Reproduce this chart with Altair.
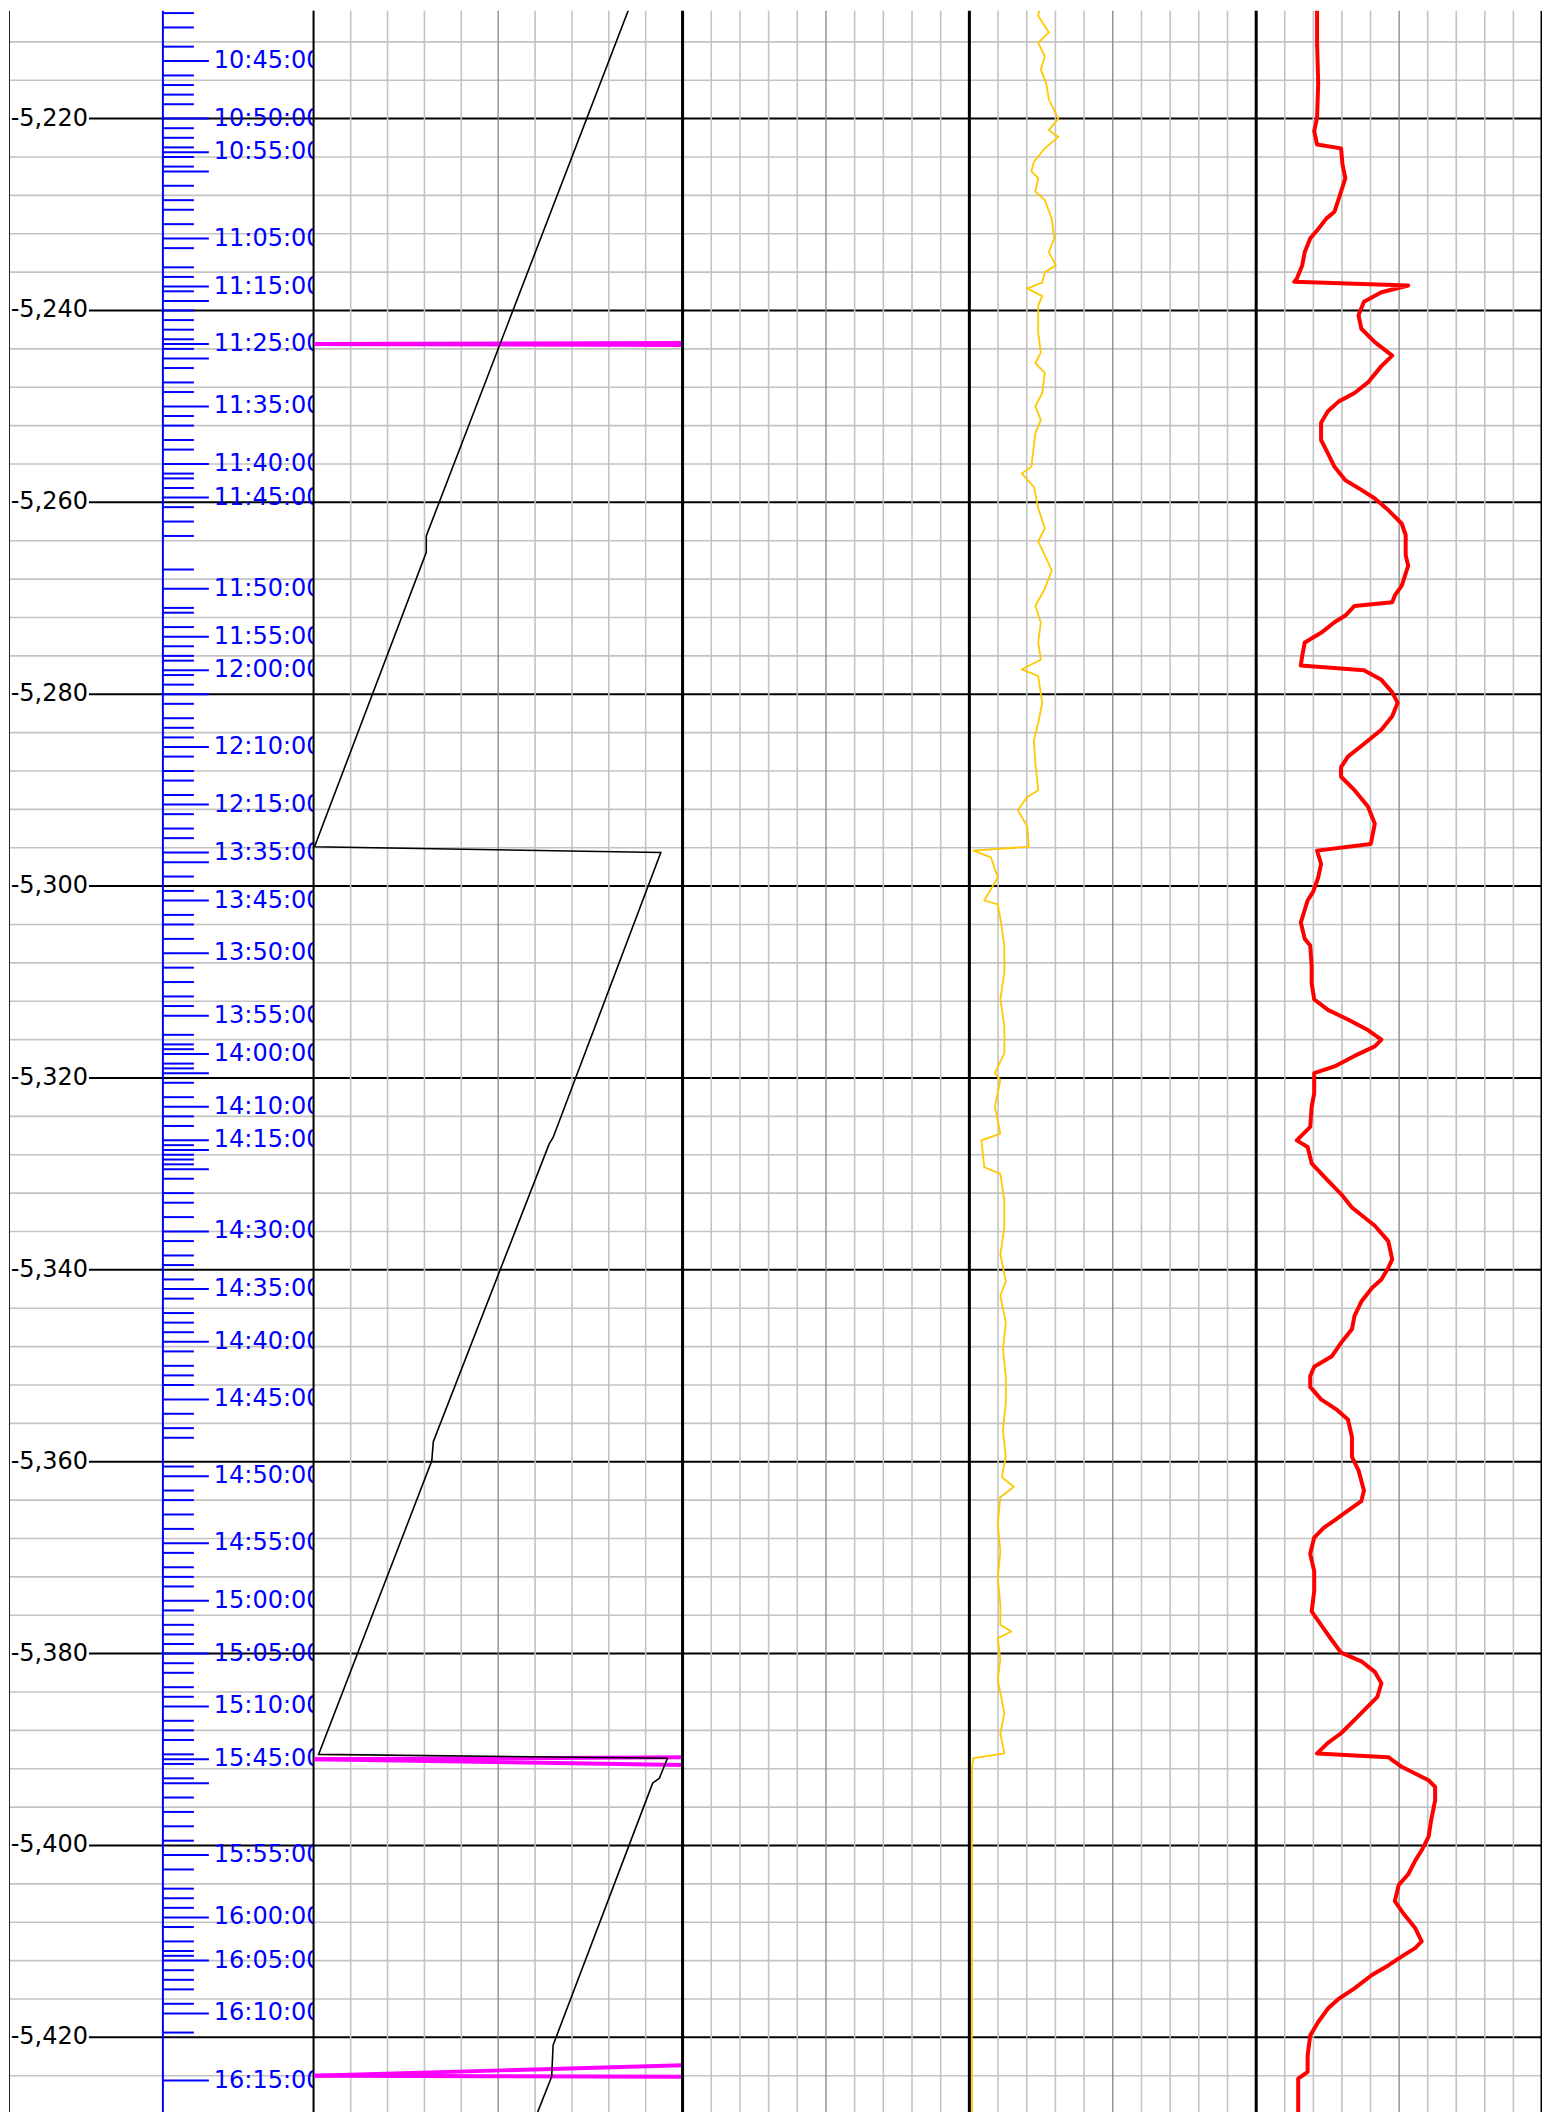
import altair as alt
import pandas as pd

# ---------------- layout constants ----------------
H = 2104
TOP_DEPTH = -5208.75
PX_PER_UNIT = 9.6
Y_DOMAIN = [TOP_DEPTH - H / PX_PER_UNIT, TOP_DEPTH]
W1, W2, W3, W4, W5 = 305, 369, 287, 287, 286

FONT = "DejaVu Sans"
BLUE = "#0000FF"
GRID = "#C3C3C3"
MID = "#858585"

# ---------------- data ----------------
major_depths = list(range(-5220, -5421, -20))
minor_depths = [d for d in range(-5212, -5428, -4) if d % 20 != 0]
major_labels = [f"{d:,}" for d in major_depths]
track_divisions = [10, 20, 30, 40, 60, 70, 80, 90]
track_center = [50]

time_labels = ["10:45:00", "10:50:00", "10:55:00", "11:05:00", "11:15:00", "11:25:00",
               "11:35:00", "11:40:00", "11:45:00", "11:50:00", "11:55:00", "12:00:00",
               "12:10:00", "12:15:00", "13:35:00", "13:45:00", "13:50:00", "13:55:00",
               "14:00:00", "14:10:00", "14:15:00", "14:30:00", "14:35:00", "14:40:00",
               "14:45:00", "14:50:00", "14:55:00", "15:00:00", "15:05:00", "15:10:00",
               "15:45:00", "15:55:00", "16:00:00", "16:05:00", "16:10:00", "16:15:00"]
time_label_depths = [-5214.0, -5220.0, -5223.5, -5232.5, -5237.5, -5243.5,
                     -5250.0, -5256.0, -5259.5, -5269.0, -5274.0, -5277.5,
                     -5285.5, -5291.5, -5296.5, -5301.5, -5307.0, -5313.5,
                     -5317.5, -5323.0, -5326.5, -5336.0, -5342.0, -5347.5,
                     -5353.5, -5361.5, -5368.5, -5374.5, -5380.0, -5385.5,
                     -5391.0, -5401.0, -5407.5, -5412.0, -5417.5, -5424.5]
long_tick_depths = [-5225.5, -5239.0, -5245.0, -5280.0, -5297.5, -5319.5,
                    -5327.5, -5329.5, -5393.5]
short_tick_depths = [
    -5209.0, -5210.5, -5212.5, -5215.5, -5216.5, -5217.5, -5218.5, -5221.0, -5222.0,
    -5223.0, -5224.0, -5225.0, -5227.0, -5228.5, -5229.5, -5231.0, -5233.5, -5235.5,
    -5236.5, -5238.0, -5240.0, -5241.0, -5242.0, -5243.0, -5244.0, -5246.0, -5247.5,
    -5248.5, -5251.0, -5252.0, -5253.5, -5254.5, -5257.0, -5257.5, -5258.5, -5260.5,
    -5262.0, -5263.5, -5267.0, -5271.0, -5271.5, -5273.0, -5275.0, -5276.0, -5276.5,
    -5278.0, -5279.0, -5281.0, -5282.5, -5283.5, -5284.5, -5286.5, -5288.0, -5289.0,
    -5290.5, -5292.5, -5294.0, -5295.0, -5299.0, -5300.5, -5303.0, -5304.0, -5305.5,
    -5308.5, -5310.0, -5311.5, -5312.5, -5315.5, -5316.5, -5317.0, -5318.5, -5319.0,
    -5320.5, -5322.0, -5324.0, -5325.0, -5327.0, -5328.0, -5328.5, -5329.0, -5330.5,
    -5332.0, -5333.0, -5334.5, -5337.0, -5338.5, -5339.5, -5341.0, -5343.0, -5344.5,
    -5345.5, -5346.5, -5348.5, -5350.0, -5351.0, -5352.0, -5355.0, -5356.5, -5357.5,
    -5360.5, -5363.0, -5364.0, -5365.5, -5367.0, -5369.5, -5371.0, -5372.0, -5373.0,
    -5375.5, -5377.0, -5378.0, -5379.0, -5381.0, -5382.0, -5383.5, -5384.5, -5387.0,
    -5388.0, -5389.0, -5390.5, -5391.5, -5393.0, -5395.0, -5396.5, -5398.0, -5399.5,
    -5402.5, -5404.5, -5405.5, -5406.5, -5408.5, -5410.0, -5411.0, -5411.5, -5413.0,
    -5414.0, -5415.0, -5416.5, -5419.5]

# track 2: black wrapped curve
bit_val = [85.3, 30.5, 30.5, 0.2, 94.1, 64.9, 63.8, 32.4, 32.0, 1.3, 95.9, 93.7,
           91.9, 64.9, 64.5, 60.6]
bit_depth = [-5208.7, -5263.5, -5265.2, -5295.9, -5296.5, -5326.2, -5326.9, -5357.9,
             -5359.9, -5390.5, -5390.9, -5393.0, -5393.5, -5420.8, -5424.1, -5427.9]

# track 2: magenta marker segments
magenta_seg = ["a", "a", "b", "b", "c", "c", "d", "d", "e", "e", "f", "f"]
magenta_val = [0, 100, 0, 100, 0, 100, 0, 100, 0, 100, 0, 100]
magenta_depth = [-5243.5, -5243.4, -5243.5, -5243.6, -5391.0, -5390.8, -5391.0, -5391.6,
                 -5424.0, -5422.9, -5424.0, -5424.1]

# track 4: yellow curve
yellow_val = [24.4, 24.0, 27.7, 24.0, 26.3, 24.9, 26.8, 27.7, 31.0, 27.7, 31.0, 26.3,
              22.5, 21.6, 24.0, 23.0, 26.3, 28.7, 29.6, 27.7, 30.1, 26.3, 25.4, 20.2,
              25.4, 24.0, 24.0, 24.9, 23.0, 26.3, 25.4, 23.0, 24.9, 23.0, 21.6, 18.3,
              22.5, 24.0, 26.3, 24.0, 26.3, 28.7, 26.3, 23.0, 24.9, 24.0, 24.9, 18.3,
              24.0, 25.4, 24.0, 22.5, 23.0, 24.0, 20.2, 16.9, 20.2, 20.7, 1.4, 7.5,
              9.9, 5.2, 9.9, 10.8, 12.2, 12.2, 10.8, 12.2, 12.2, 8.9, 10.8, 8.9,
              10.8, 4.2, 5.2, 10.8, 12.2, 12.2, 10.8, 12.7, 10.8, 12.7, 11.7, 12.7,
              12.7, 11.7, 12.7, 11.3, 15.5, 10.8, 9.9, 10.8, 9.9, 10.8, 10.8, 14.6,
              9.9, 10.8, 9.9, 12.2, 10.8, 12.2, 1.4, 0.9, 0.9]
yellow_depth = [-5208.7, -5209.3, -5211.0, -5212.1, -5213.5, -5214.9, -5216.3, -5218.0,
                -5220.0, -5221.2, -5221.9, -5223.1, -5224.5, -5225.5, -5226.2, -5227.6,
                -5228.5, -5230.4, -5232.5, -5233.9, -5235.3, -5236.0, -5237.1, -5237.7,
                -5238.5, -5239.5, -5242.3, -5244.4, -5245.5, -5246.5, -5248.6, -5250.0,
                -5251.4, -5252.8, -5256.3, -5257.0, -5258.4, -5260.6, -5262.7, -5264.1,
                -5265.5, -5267.1, -5269.0, -5270.8, -5272.5, -5274.6, -5276.4, -5277.4,
                -5278.1, -5280.9, -5283.0, -5284.8, -5287.2, -5290.0, -5290.7, -5292.1,
                -5293.8, -5295.9, -5296.3, -5297.0, -5299.1, -5301.5, -5301.9, -5303.4,
                -5306.2, -5309.0, -5311.8, -5314.6, -5317.4, -5319.5, -5320.2, -5323.0,
                -5325.8, -5326.5, -5329.3, -5330.0, -5332.8, -5335.6, -5338.4, -5341.2,
                -5342.7, -5345.5, -5348.3, -5351.1, -5353.9, -5356.7, -5359.5, -5361.6,
                -5362.6, -5363.7, -5366.5, -5369.3, -5372.1, -5374.9, -5377.0, -5377.7,
                -5378.4, -5380.6, -5382.7, -5386.2, -5388.3, -5390.4, -5390.9, -5391.8,
                -5427.9]

# track 5: red curve
red_val = [21.3, 21.3, 21.7, 21.3, 20.3, 21.3, 29.7, 30.2, 31.2, 29.7, 27.4, 24.6,
           21.7, 18.9, 17.0, 16.1, 14.2, 13.3, 53.2, 43.8, 37.7, 35.8, 36.8, 41.5,
           47.6, 43.8, 39.1, 34.4, 28.8, 25.1, 22.7, 22.7, 25.1, 27.4, 31.2, 36.8,
           41.5, 46.2, 50.9, 52.3, 52.3, 53.2, 50.9, 48.5, 47.6, 34.4, 31.2, 27.4,
           22.7, 17.0, 16.1, 15.6, 37.7, 43.8, 47.6, 49.5, 47.6, 43.8, 36.8, 32.1,
           29.7, 29.7, 34.4, 39.1, 41.5, 40.1, 21.3, 22.7, 21.7, 19.9, 18.0, 15.6,
           17.0, 18.9, 19.4, 19.4, 20.3, 25.1, 32.1, 39.1, 43.8, 41.5, 34.4, 27.4,
           20.3, 20.3, 19.4, 18.9, 14.2, 18.0, 19.4, 25.1, 29.7, 33.5, 41.5, 46.2,
           47.6, 46.2, 43.8, 40.5, 36.8, 34.4, 33.5, 29.7, 26.5, 20.3, 18.9, 18.9,
           22.7, 28.3, 32.1, 33.5, 33.5, 35.8, 37.7, 36.8, 32.1, 27.4, 23.6, 20.3,
           18.9, 20.3, 20.3, 19.4, 22.7, 26.0, 29.7, 36.8, 41.5, 43.8, 42.4, 39.1,
           34.4, 29.7, 25.1, 21.3, 46.2, 50.9, 55.6, 60.3, 62.6, 62.6, 61.2, 60.3,
           57.9, 55.6, 53.2, 49.9, 48.5, 51.8, 55.6, 57.9, 55.6, 51.8, 46.2, 40.5,
           34.4, 28.8, 25.1, 21.7, 18.9, 18.0, 18.0, 14.7, 14.7]
red_depth = [-5208.7, -5212.1, -5216.3, -5219.9, -5221.3, -5222.7, -5223.1, -5224.8,
             -5226.2, -5227.6, -5229.7, -5230.4, -5231.5, -5232.5, -5233.9, -5235.3,
             -5236.7, -5237.0, -5237.4, -5238.1, -5239.1, -5240.5, -5241.9, -5243.3,
             -5244.7, -5245.8, -5247.5, -5248.6, -5249.5, -5250.5, -5251.7, -5253.5,
             -5254.9, -5256.3, -5257.7, -5258.7, -5259.6, -5260.8, -5262.2, -5263.4,
             -5265.5, -5266.6, -5268.7, -5269.7, -5270.4, -5270.8, -5271.8, -5272.5,
             -5273.6, -5274.6, -5276.0, -5277.0, -5277.5, -5278.5, -5279.8, -5280.9,
             -5282.3, -5283.7, -5285.4, -5286.5, -5287.6, -5288.6, -5290.0, -5291.7,
             -5293.5, -5295.6, -5296.3, -5297.7, -5299.1, -5300.6, -5301.5, -5303.8,
             -5305.5, -5306.2, -5308.3, -5310.1, -5311.8, -5312.9, -5313.9, -5315.0,
             -5316.0, -5316.7, -5317.7, -5318.8, -5319.5, -5321.6, -5323.0, -5325.1,
             -5326.5, -5327.2, -5328.9, -5330.7, -5332.1, -5333.5, -5335.4, -5337.0,
             -5338.9, -5339.8, -5341.0, -5341.9, -5343.3, -5344.8, -5346.2, -5347.6,
             -5349.0, -5350.1, -5351.1, -5352.2, -5353.5, -5354.6, -5355.6, -5357.4,
             -5359.5, -5360.9, -5363.0, -5364.1, -5365.1, -5366.1, -5366.9, -5367.9,
             -5369.6, -5371.4, -5373.5, -5375.6, -5377.0, -5378.4, -5379.9, -5380.8,
             -5381.9, -5383.1, -5384.5, -5385.5, -5386.9, -5388.3, -5389.3, -5390.4,
             -5390.8, -5391.8, -5392.5, -5393.2, -5393.9, -5395.3, -5397.4, -5399.1,
             -5400.5, -5401.6, -5403.0, -5404.1, -5405.8, -5407.2, -5408.6, -5410.0,
             -5410.7, -5411.4, -5412.5, -5413.5, -5414.9, -5416.0, -5417.0, -5418.4,
             -5419.8, -5421.9, -5423.6, -5424.3, -5427.9]

# ---------------- frames ----------------
df_minor = pd.DataFrame({"depth": minor_depths})
df_major = pd.DataFrame({"depth": major_depths, "label": major_labels})
df_div = pd.DataFrame({"v": track_divisions})
df_mid = pd.DataFrame({"v": track_center})
df_left = pd.DataFrame({"v": [0]})
df_right = pd.DataFrame({"v": [100]})
df_one = pd.DataFrame({"k": [0]})
df_tlab = pd.DataFrame({"depth": time_label_depths, "label": time_labels})
df_long = pd.DataFrame({"depth": time_label_depths + long_tick_depths})
df_short = pd.DataFrame({"depth": short_tick_depths})
df_bit = pd.DataFrame({"val": bit_val, "depth": bit_depth, "i": range(len(bit_val))})
df_mag = pd.DataFrame({"seg": magenta_seg, "val": magenta_val, "depth": magenta_depth,
                       "i": range(len(magenta_val))})
df_yel = pd.DataFrame({"val": yellow_val, "depth": yellow_depth, "i": range(len(yellow_val))})
df_red = pd.DataFrame({"val": red_val, "depth": red_depth, "i": range(len(red_val))})

yscale = alt.Scale(domain=Y_DOMAIN, nice=False, zero=False)
xscale = alt.Scale(domain=[0, 100], nice=False, zero=False)
Y = alt.Y("depth:Q", scale=yscale, axis=None)


def X(field):
    return alt.X(f"{field}:Q", scale=xscale, axis=None)


def minor_rules():
    return alt.Chart(df_minor).mark_rule(color=GRID, strokeWidth=1.6).encode(y=Y)


# ---------------- track 1: depth + time index ----------------
t1 = alt.layer(
    minor_rules(),
    alt.Chart(df_major).mark_rule(color="black", strokeWidth=2).encode(
        y=Y, x=alt.value(80), x2=alt.value(W1)),
    alt.Chart(df_major).mark_text(align="right", baseline="middle", fontSize=24,
                                  font=FONT, color="black", clip=True).encode(
        y=Y, text="label:N", x=alt.value(79)),
    alt.Chart(df_one).mark_rule(color=BLUE, strokeWidth=2).encode(
        x=alt.value(154), y=alt.value(0), y2=alt.value(H)),
    alt.Chart(df_short).mark_rule(color=BLUE, strokeWidth=2).encode(
        y=Y, x=alt.value(154), x2=alt.value(185)),
    alt.Chart(df_long).mark_rule(color=BLUE, strokeWidth=2).encode(
        y=Y, x=alt.value(154), x2=alt.value(200)),
    alt.Chart(df_tlab).mark_text(align="left", baseline="middle", fontSize=24,
                                 font=FONT, color=BLUE, clip=True).encode(
        y=Y, text="label:N", x=alt.value(205)),
    alt.Chart(df_one).mark_rule(color="#222222", strokeWidth=1).encode(
        x=alt.value(0.5), y=alt.value(0), y2=alt.value(H)),
    alt.Chart(df_one).mark_rule(color="black", strokeWidth=1.5).encode(
        x=alt.value(W1 - 0.5), y=alt.value(0), y2=alt.value(H)),
).properties(width=W1, height=H)


def track_base(left_width=3.0):
    return [
        minor_rules(),
        alt.Chart(df_major).mark_rule(color="black", strokeWidth=2).encode(y=Y),
        alt.Chart(df_div).mark_rule(color=GRID, strokeWidth=1.6).encode(x=X("v")),
        alt.Chart(df_mid).mark_rule(color=MID, strokeWidth=1.3).encode(x=X("v")),
        alt.Chart(df_left).mark_rule(color="black", strokeWidth=left_width).encode(x=X("v")),
    ]


# ---------------- track 2 ----------------
t2 = alt.layer(
    *track_base(left_width=1.5),
    alt.Chart(df_mag).mark_line(color="#FF00FF", strokeWidth=4, clip=True).encode(
        x=X("val"), y=Y, detail="seg:N", order="i:Q"),
    alt.Chart(df_bit).mark_line(color="black", strokeWidth=1.6, clip=True).encode(
        x=X("val"), y=Y, order="i:Q"),
).properties(width=W2, height=H)

# ---------------- track 3 ----------------
t3 = alt.layer(*track_base()).properties(width=W3, height=H)

# ---------------- track 4 ----------------
t4 = alt.layer(
    *track_base(),
    alt.Chart(df_yel).mark_line(color="#FFC800", strokeWidth=1.8, clip=True,
                                strokeJoin="round").encode(
        x=X("val"), y=Y, order="i:Q"),
).properties(width=W4, height=H)

# ---------------- track 5 ----------------
t5 = alt.layer(
    *track_base(),
    alt.Chart(df_right).mark_rule(color="black", strokeWidth=3, clip=True).encode(x=X("v")),
    alt.Chart(df_red).mark_line(color="#FF0000", strokeWidth=4, clip=True,
                                strokeJoin="round").encode(
        x=X("val"), y=Y, order="i:Q"),
).properties(width=W5, height=H)

chart = alt.hconcat(t1, t2, t3, t4, t5, spacing=0, bounds="flush").properties(
    padding=0, background="white"
).configure_view(stroke=None).configure_concat(spacing=0)

chart.save("out.html", embed_options={"renderer": "svg", "actions": False})
